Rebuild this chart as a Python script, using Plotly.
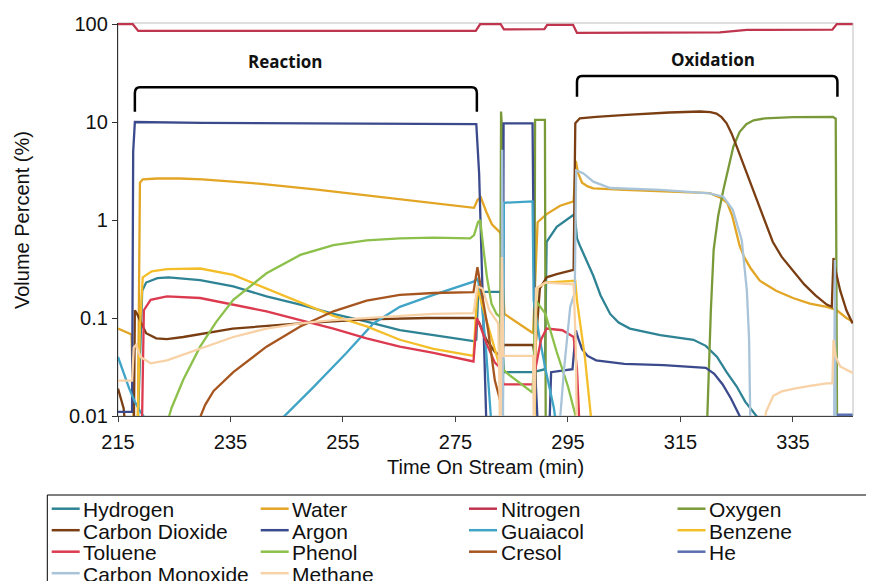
import plotly.graph_objects as go

# ---------------- data ----------------
NAMES = ["Hydrogen", "Water", "Nitrogen", "Oxygen", "Carbon Dioxide", "Argon",
         "Guaiacol", "Benzene", "Toluene", "Phenol", "Cresol", "He",
         "Carbon Monoxide", "Methane"]
COLORS = ["#2E8394", "#E2A524", "#C0354E", "#7A9A3A", "#7A3E12", "#3B4A8C",
          "#3FA4C6", "#F4BE2A", "#DC3A4E", "#8CC04A", "#A7551F", "#5A6FB0",
          "#A9C4D8", "#F8D2A6"]

HYDROGEN_T = [218.4, 218.9, 219.3, 220.0, 222.0, 224.0, 229.6, 235.5, 241.4, 247.4, 253.3, 259.2, 265.1,
              271.1, 278.2, 278.7, 279.1, 280.0, 283.0, 283.3, 283.6, 288.8, 290.9, 291.2, 293.0, 296.2,
              296.6, 297.1, 298.0, 299.5, 300.8, 302.5, 304.0, 306.0, 311.4, 317.3, 319.5, 321.5, 323.2,
              325.0, 326.5, 328.0, 328.8, 329.2]
HYDROGEN_V = [0.005, 0.05, 0.19, 0.23, 0.255, 0.26, 0.244, 0.21, 0.166, 0.137, 0.11, 0.092, 0.0754,
              0.067, 0.058, 0.06, 0.22, 0.185, 0.185, 0.05, 0.028, 0.028, 0.03, 0.6, 0.85, 1.15,
              0.65, 0.55, 0.42, 0.27, 0.17, 0.11, 0.09, 0.078, 0.067, 0.06, 0.052, 0.04, 0.028,
              0.02, 0.014, 0.011, 0.0095, 0.005]

WATER_T = [215.0, 217.4, 217.9, 218.5, 218.9, 219.4, 222.0, 226.0, 230.0, 240.0, 250.0, 260.0, 270.0,
           278.3, 278.9, 279.5, 280.5, 281.5, 283.0, 283.4, 283.7, 288.8, 289.2, 289.6, 291.2, 293.6,
           296.0, 296.4, 296.8, 297.5, 298.5, 299.5, 305.0, 317.0, 320.2, 322.0, 323.3, 324.2, 324.8,
           325.5, 326.3, 327.5, 329.1, 332.0, 335.0, 338.0, 341.0, 342.8, 344.5, 345.6]
WATER_V = [0.078, 0.068, 0.005, 0.005, 2.4, 2.6, 2.65, 2.65, 2.6, 2.35, 2.05, 1.75, 1.5,
           1.33, 1.6, 1.7, 1.2, 0.9, 0.74, 0.2, 0.11, 0.07, 0.3, 0.95, 1.15, 1.4,
           1.55, 4.0, 3.0, 2.4, 2.2, 2.1, 2.03, 1.92, 1.88, 1.7, 1.5, 1.1, 0.8,
           0.55, 0.42, 0.32, 0.24, 0.19, 0.16, 0.14, 0.13, 0.12, 0.1, 0.092]

NITROGEN_T = [215.0, 217.6, 218.6, 250.0, 278.6, 279.4, 283.0, 283.6, 290.8, 291.3, 295.9, 296.6,
              310.0, 322.0, 326.8, 342.0, 342.8, 345.6]
NITROGEN_V = [100, 100, 85, 84.5, 85, 100, 100, 88, 88.5, 98, 98, 81, 81, 82, 87, 87.5, 100, 100]

OXYGEN_T = [282.9, 283.1, 283.25, 283.45, 289.0, 289.15, 290.9, 291.05, 319.6, 319.9, 320.4, 320.9,
            321.7, 322.6, 323.5, 324.4, 325.5, 326.7, 328.0, 330.0, 335.0, 342.1, 342.6, 342.85]
OXYGEN_V = [0.005, 12.8, 9.0, 0.005, 0.005, 10.5, 10.5, 0.005, 0.005, 0.02, 0.12, 0.5,
            1.1, 2.0, 3.4, 5.6, 7.9, 9.5, 10.4, 10.9, 11.2, 11.3, 10.8, 0.005]

CO2_T = [215.0, 216.0, 216.6, 217.8, 218.0, 218.4, 218.9, 220.0, 221.8, 223.7, 226.6, 235.4, 247.4,
         259.2, 270.0, 278.5, 279.2, 280.5, 282.0, 283.3, 283.5, 288.8, 289.1, 290.0, 291.2, 293.0,
         296.0, 296.3, 297.1, 300.0, 305.4, 313.0, 318.5, 320.3, 321.4, 322.3, 323.2, 324.1, 325.0,
         326.5, 328.0, 329.7, 331.4, 333.0, 335.0, 337.0, 339.0, 341.0, 341.9, 342.2, 342.6, 343.4,
         344.5, 345.6]
CO2_V = [0.019, 0.012, 0.005, 0.005, 0.12, 0.11, 0.095, 0.07, 0.062, 0.061, 0.064, 0.078, 0.088,
         0.097, 0.1, 0.1, 0.09, 0.06, 0.045, 0.04, 0.053, 0.053, 0.04, 0.2, 0.26, 0.28,
         0.31, 9.7, 10.9, 11.3, 11.8, 12.5, 12.8, 12.6, 12.2, 11.2, 9.7, 7.6, 5.6,
         3.3, 2.0, 1.1, 0.6, 0.42, 0.3, 0.22, 0.17, 0.137, 0.13, 0.41, 0.3, 0.19,
         0.12, 0.088]

ARGON_T = [215.0, 217.5, 217.7, 218.0, 230.0, 250.0, 270.0, 278.7, 279.2, 279.7, 280.2, 280.6, 283.4,
           283.55, 288.7, 288.9, 289.3, 289.8, 291.6, 292.0, 295.8, 296.4, 296.9, 297.5, 298.5, 300.0,
           305.0, 312.0, 319.5, 321.0, 322.5, 324.0, 325.6, 326.0]
ARGON_V = [0.011, 0.011, 5.0, 10.0, 9.8, 9.7, 9.6, 9.5, 3.0, 0.3, 0.03, 0.005, 0.005,
           9.7, 9.7, 0.5, 0.02, 0.005, 0.005, 0.028, 0.03, 0.075, 0.06, 0.048, 0.041, 0.037,
           0.034, 0.033, 0.031, 0.027, 0.021, 0.015, 0.0098, 0.005]

GUAIACOL_T = [215.0, 216.0, 217.0, 218.0, 219.0, 220.7, 243.8, 249.7, 255.6, 260.4, 265.1, 271.1,
              278.2, 278.9, 279.4, 280.4, 281.4, 283.4, 283.6, 288.7, 288.9, 290.0, 291.0, 292.5, 293.2]
GUAIACOL_V = [0.04, 0.028, 0.019, 0.014, 0.011, 0.008, 0.009, 0.0196, 0.044, 0.088, 0.13, 0.172,
              0.235, 0.25, 0.2, 0.05, 0.008, 0.005, 1.5, 1.55, 0.15, 0.06, 0.03, 0.012, 0.006]

BENZENE_T = [218.4, 218.9, 219.4, 221.0, 223.7, 229.6, 235.5, 241.4, 247.4, 253.3, 259.2, 265.1,
             271.1, 278.2, 278.9, 280.0, 281.5, 283.0, 283.4, 289.0, 289.4, 291.0, 296.3, 296.6,
             298.0, 299.2, 299.6]
BENZENE_V = [0.005, 0.08, 0.26, 0.3, 0.316, 0.32, 0.275, 0.2, 0.147, 0.105, 0.082, 0.06,
             0.0485, 0.041, 0.2, 0.12, 0.06, 0.03, 0.005, 0.005, 0.2, 0.23, 0.24, 0.15,
             0.04, 0.01, 0.005]

TOLUENE_T = [219.2, 219.6, 220.8, 223.7, 229.6, 235.5, 241.4, 247.4, 253.3, 259.2, 265.1, 271.1,
             278.2, 278.8, 279.5, 280.5, 282.0, 283.2, 283.5, 288.8, 289.2, 290.2, 291.2, 294.0,
             296.0, 296.6, 297.2]
TOLUENE_V = [0.005, 0.12, 0.153, 0.166, 0.16, 0.137, 0.117, 0.095, 0.078, 0.062, 0.051, 0.044,
             0.036, 0.1, 0.08, 0.055, 0.035, 0.03, 0.021, 0.021, 0.03, 0.06, 0.078, 0.075,
             0.064, 0.03, 0.005]

PHENOL_T = [223.6, 224.5, 226.6, 229.6, 232.5, 235.5, 241.4, 247.4, 253.3, 259.2, 265.1, 271.1,
            277.6, 278.3, 279.0, 279.4, 280.0, 280.6, 281.4, 282.3, 283.1, 283.5, 284.1, 288.7,
            289.3, 291.0, 293.0, 295.0, 296.8]
PHENOL_V = [0.008, 0.012, 0.0234, 0.051, 0.092, 0.153, 0.286, 0.44, 0.555, 0.62, 0.65, 0.66,
            0.65, 0.7, 0.95, 1.0, 0.49, 0.26, 0.14, 0.11, 0.1, 0.03, 0.0275, 0.0173,
            0.15, 0.11, 0.045, 0.02, 0.008]

CRESOL_T = [229.0, 230.5, 232.0, 235.5, 241.4, 247.4, 253.3, 259.2, 265.1, 271.1, 278.2, 278.9,
            279.6, 280.8, 282.0, 283.0, 283.4]
CRESOL_V = [0.008, 0.013, 0.018, 0.028, 0.051, 0.082, 0.117, 0.15, 0.172, 0.18, 0.184, 0.33,
            0.19, 0.075, 0.023, 0.014, 0.008]

HE_T = [342.7, 342.9, 345.6]
HE_V = [0.005, 0.0103, 0.0103]

CO_T = [283.15, 283.3, 283.45, 293.5, 294.3, 295.4, 296.2, 296.45, 297.7, 299.5, 302.5, 311.4,
        320.2, 322.6, 324.3, 325.9, 326.8, 327.2, 327.4, 327.5, 342.3, 342.45, 342.6]
CO_V = [0.005, 5.2, 0.005, 0.008, 0.03, 0.13, 0.18, 3.2, 3.0, 2.46, 2.12, 2.03,
        1.87, 1.73, 1.27, 0.62, 0.19, 0.06, 0.01, 0.005, 0.005, 0.39, 0.005]

METHANE_T = [215.0, 217.5, 217.8, 218.2, 219.0, 220.8, 223.7, 229.6, 235.5, 241.4, 247.4, 253.3,
             259.2, 265.1, 271.1, 278.2, 278.9, 279.8, 281.0, 282.6, 283.0, 283.25, 283.5, 288.8,
             288.95, 289.3, 291.0, 296.0, 296.4, 296.6, 329.6, 330.2, 331.5, 333.0, 335.0, 338.0,
             341.0, 342.0, 342.2, 342.6, 343.4, 345.6]
METHANE_V = [0.023, 0.023, 0.05, 0.053, 0.04, 0.0345, 0.037, 0.0485, 0.064, 0.078, 0.088, 0.095,
             0.1, 0.105, 0.11, 0.112, 0.21, 0.2, 0.12, 0.088, 0.005, 0.42, 0.041, 0.041,
             0.005, 0.2, 0.23, 0.22, 0.05, 0.005, 0.005, 0.011, 0.0161, 0.0178, 0.0189, 0.0203,
             0.0215, 0.0215, 0.06, 0.04, 0.032, 0.0275]

X_TICKS = [215, 235, 255, 275, 295, 315, 335]
Y_TICKS = [0.01, 0.1, 1, 10, 100]
Y_TICK_TEXT = ["0.01", "0.1", "1", "10", "100"]
X_RANGE = [215, 345.67]
PHASES = ["Reaction", "Oxidation"]
PHASE_START = [218.0, 296.6]
PHASE_END = [278.8, 342.9]
PHASE_LABEL_X = [244.7, 320.7]

SERIES_T = [HYDROGEN_T, WATER_T, NITROGEN_T, OXYGEN_T, CO2_T, ARGON_T, GUAIACOL_T,
            BENZENE_T, TOLUENE_T, PHENOL_T, CRESOL_T, HE_T, CO_T, METHANE_T]
SERIES_V = [HYDROGEN_V, WATER_V, NITROGEN_V, OXYGEN_V, CO2_V, ARGON_V, GUAIACOL_V,
            BENZENE_V, TOLUENE_V, PHENOL_V, CRESOL_V, HE_V, CO_V, METHANE_V]

# ---------------- layout geometry ----------------
# the page body has an 8px margin, so the figure is 8px smaller and shifted
OFF = 8
W, H = 874 - OFF, 581 - OFF
ML, MR, MT, MB = 118 - OFF, 21, 23 - OFF, 165
PW, PH = W - ML - MR, H - MT - MB
FONT = "Liberation Sans, Arial, sans-serif"


def px_x(px):
    """window pixel x -> paper x"""
    return (px - OFF - ML) / PW


def px_y(py):
    """window pixel y -> paper y"""
    return (H - MB - (py - OFF)) / PH


fig = go.Figure()
for name, color, ts, vs in zip(NAMES, COLORS, SERIES_T, SERIES_V):
    fig.add_trace(go.Scatter(x=ts, y=vs, mode="lines", name=name,
                             line=dict(color=color, width=2.3), showlegend=False))

shapes = []
annotations = []

# light plot-area border (top / right)
shapes.append(dict(type="rect", xref="paper", yref="paper", x0=0, x1=1, y0=0, y1=1,
                   line=dict(color="#BFBFBF", width=1), layer="below"))

# phase brackets
bracket_top = [87.3, 76.0]
bracket_end = [111.7, 96.7]
label_y = [61.5, 59.0]
for lab, x0, x1, lx, yt, ye, ly in zip(PHASES, PHASE_START, PHASE_END, PHASE_LABEL_X,
                                       bracket_top, bracket_end, label_y):
    t = px_y(yt)
    e = px_y(ye)
    dy = 6 / PH
    dx = 0.9
    path = (f"M {x0},{e} L {x0},{t - dy} Q {x0},{t} {x0 + dx},{t} "
            f"L {x1 - dx},{t} Q {x1},{t} {x1},{t - dy} L {x1},{e}")
    shapes.append(dict(type="path", xref="x", yref="paper", path=path,
                       line=dict(color="black", width=2.5)))
    annotations.append(dict(x=lx, xref="x", y=px_y(ly), yref="paper",
                            text=f"<b>{lab}</b>", showarrow=False,
                            font=dict(family="Open Sans, sans-serif", size=17, color="#111111"),
                            xanchor="center", yanchor="middle"))

# axis titles
annotations.append(dict(x=px_x(22), y=px_y(220), xref="paper", yref="paper",
                        text="Volume Percent (%)", textangle=-90, showarrow=False,
                        font=dict(family=FONT, size=20, color="#111111"),
                        xanchor="center", yanchor="middle"))
annotations.append(dict(x=px_x(485), y=px_y(467), xref="paper", yref="paper",
                        text="Time On Stream (min)", showarrow=False,
                        font=dict(family=FONT, size=20, color="#111111"),
                        xanchor="center", yanchor="middle"))

# legend (drawn manually to match the boxed 4-column layout)
shapes.append(dict(type="rect", xref="paper", yref="paper",
                   x0=px_x(47.3), x1=px_x(900), y0=px_y(495), y1=px_y(620),
                   line=dict(color="black", width=1)))
col_x = [51.7, 260.7, 469.0, 677.5]
row_y = [508.7, 530.2, 551.7, 573.2]
for i, (name, color) in enumerate(zip(NAMES, COLORS)):
    r, c = divmod(i, 4)
    x0 = col_x[c]
    y0 = row_y[r]
    shapes.append(dict(type="line", xref="paper", yref="paper",
                       x0=px_x(x0), x1=px_x(x0 + 28), y0=px_y(y0), y1=px_y(y0),
                       line=dict(color=color, width=2.5)))
    annotations.append(dict(x=px_x(x0 + 29.5), y=px_y(y0 + 1), xref="paper", yref="paper",
                            text=name, showarrow=False, xanchor="left", yanchor="middle",
                            font=dict(family=FONT, size=21, color="#111111")))

fig.update_layout(
    width=W, height=H, autosize=False,
    margin=dict(l=ML, r=MR, t=MT, b=MB, pad=0, autoexpand=False),
    paper_bgcolor="white", plot_bgcolor="white",
    showlegend=False,
    shapes=shapes, annotations=annotations,
    xaxis=dict(range=X_RANGE, tickvals=X_TICKS, showgrid=False, zeroline=False,
               automargin=False,
               showline=True, linecolor="#404040", linewidth=1.3,
               ticks="outside", ticklen=5, tickcolor="#404040", ticklabelstandoff=3,
               tickfont=dict(family=FONT, size=20, color="#111111")),
    yaxis=dict(type="log", range=[-2, -2 + PH / 98.0], tickvals=Y_TICKS, ticktext=Y_TICK_TEXT,
               showgrid=False, zeroline=False, automargin=False,
               showline=True, linecolor="#303030", linewidth=1.3,
               ticks="outside", ticklen=5, tickcolor="#303030",
               tickfont=dict(family=FONT, size=20, color="#111111")),
)

fig.write_html("out.html")
